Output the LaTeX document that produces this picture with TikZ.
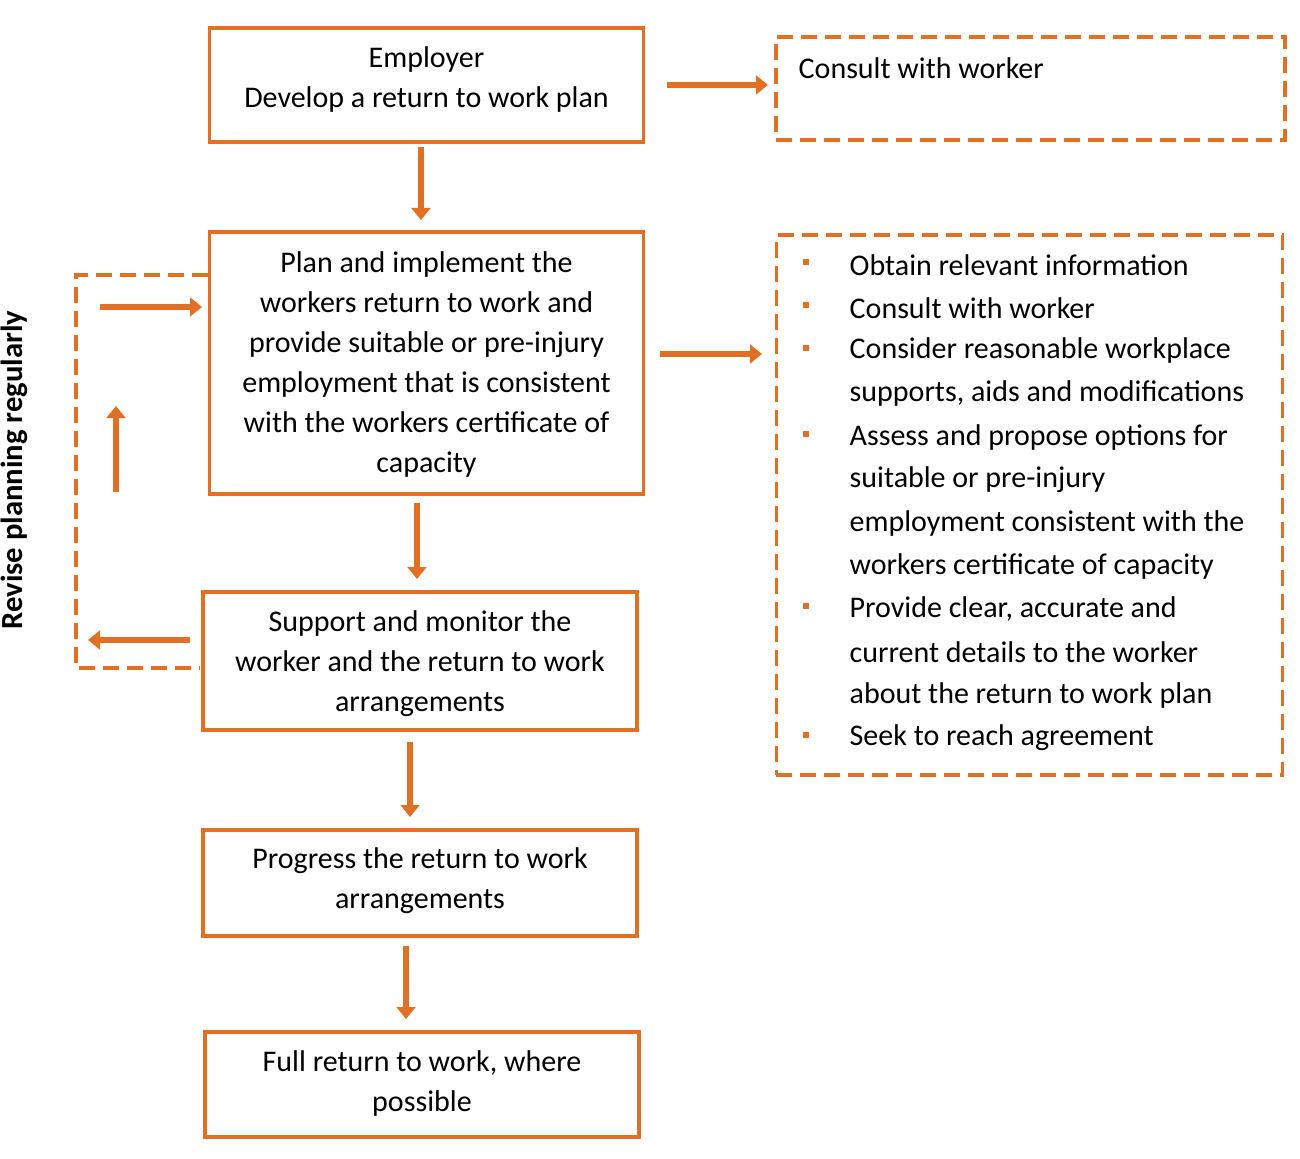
\documentclass[tikz,border=0pt]{standalone}
\usepackage{fontspec}
\setmainfont{Carlito}
\usetikzlibrary{arrows.meta}
\definecolor{org}{RGB}{226,112,36}
\begin{document}
\begin{tikzpicture}[x=0.75pt,y=-0.75pt,
  box/.style={draw=org,line width=2.3pt},
  dbox/.style={draw=org,line width=2.3pt,dash pattern=on 12pt off 6pt},
  arr/.style={draw=org,line width=4.2pt,-{Triangle[length=9pt,width=14pt]}},
  txt/.style={font=\fontsize{22.5}{30}\selectfont,align=center}]
\useasboundingbox (0,0) rectangle (1300,1159);
\node[box,minimum width=325pt,minimum height=85.5pt] (emp) at (426.5,85) {};
\node[txt] (empt) at (426.5,80) {Employer\\Develop a return to work plan};
\node[dbox,minimum width=381.75pt,minimum height=77.25pt] (cons) at (1030.5,88.5) {};
\node[txt,anchor=west] (const) at (794,68) {Consult with worker};
\node[box,minimum width=325pt,minimum height=196.5pt] (plan) at (426.5,363) {};
\node[txt] (plant) at (426.5,364) {Plan and implement the\\workers return to work and\\provide suitable or pre-injury\\employment that is consistent\\with the workers certificate of\\capacity};
\node[dbox,minimum width=380pt,minimum height=405pt] (list) at (1029.5,505) {};
\foreach \i/\t in {1/Obtain relevant information,2/Consult with worker,3/Consider reasonable workplace,4/{supports, aids and modifications},5/Assess and propose options for,6/suitable or pre-injury,7/employment consistent with the,8/workers certificate of capacity,9/{Provide clear, accurate and},10/current details to the worker,11/about the return to work plan,12/Seek to reach agreement}
  \node[txt,anchor=west] (l\i) at (845,{265+43*(\i-1)}) {\t};
\foreach \i in {1,2,3,5,9,12}
  \fill[org] ({806-3},{265+43*(\i-1)-6}) rectangle +(6,6);
\node[box,minimum width=325.5pt,minimum height=103.5pt] (sup) at (420,661) {};
\node[txt] (supt) at (420,664) {Support and monitor the\\worker and the return to work\\arrangements};
\node[box,minimum width=325.5pt,minimum height=79.5pt] (prog) at (420,883) {};
\node[txt] (progt) at (420,881) {Progress the return to work\\arrangements};
\node[box,minimum width=325.5pt,minimum height=78.75pt] (full) at (422,1084.5) {};
\node[txt] (fullt) at (422,1083) {Full return to work, where\\possible};
\draw[dbox] (208,275) -- (76,275) -- (76,668) -- (200,668);
\node[rotate=90,font=\bfseries\fontsize{23}{26}\selectfont] (rev) at (14,470) {Revise planning regularly};
\coordinate (a1) at (421,147); \coordinate (a2) at (421,220);
\coordinate (b1) at (667,85); \coordinate (b2) at (768,85);
\coordinate (c1) at (660,354); \coordinate (c2) at (762,354);
\coordinate (d1) at (417,503); \coordinate (d2) at (417,579);
\coordinate (e1) at (410,742); \coordinate (e2) at (410,817);
\coordinate (f1) at (406,946); \coordinate (f2) at (406,1019);
\coordinate (g1) at (100,307); \coordinate (g2) at (202,307);
\coordinate (h1) at (116,492); \coordinate (h2) at (116,406);
\coordinate (i1) at (190,640); \coordinate (i2) at (88,640);
\foreach \p in {a,b,c,d,e,f,g,h,i} \draw[arr] (\p1) -- (\p2);
\end{tikzpicture}
\end{document}
